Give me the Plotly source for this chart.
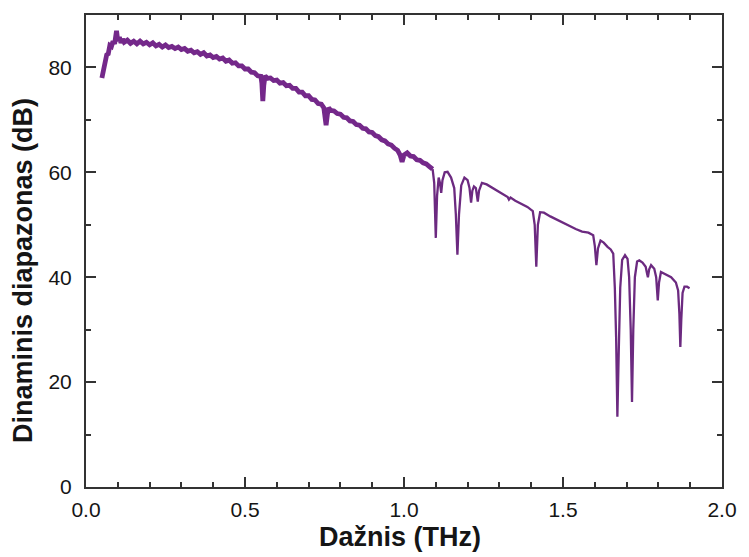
import plotly.graph_objects as go

# Frequency (THz) and dynamic range (dB)
freq_thz = [
    0.050, 0.055, 0.060, 0.065, 0.070, 0.075, 0.080, 0.085, 0.090, 0.096,
    0.100, 0.105, 0.110, 0.115, 0.12, 0.13, 0.14, 0.15, 0.16, 0.17,
    0.18, 0.19, 0.20, 0.21, 0.22, 0.23, 0.24, 0.25, 0.26, 0.27,
    0.28, 0.29, 0.30, 0.31, 0.32, 0.33, 0.34, 0.35, 0.36, 0.37,
    0.38, 0.39, 0.40, 0.41, 0.42, 0.43, 0.44, 0.45, 0.46, 0.47,
    0.48, 0.49, 0.50, 0.51, 0.52, 0.53, 0.54, 0.55, 0.553, 0.556,
    0.559, 0.563, 0.57, 0.58, 0.59, 0.60, 0.61, 0.62, 0.63, 0.64,
    0.65, 0.66, 0.67, 0.68, 0.69, 0.70, 0.71, 0.72, 0.73, 0.74,
    0.748, 0.752, 0.755, 0.759, 0.763, 0.77, 0.78, 0.79, 0.80, 0.81,
    0.82, 0.83, 0.84, 0.85, 0.86, 0.87, 0.88, 0.89, 0.90, 0.91,
    0.92, 0.93, 0.94, 0.95, 0.96, 0.97, 0.98, 0.988, 0.994, 1.000,
    1.01, 1.02, 1.03, 1.04, 1.05, 1.06, 1.07, 1.08, 1.09, 1.095,
    1.100, 1.104, 1.109, 1.113, 1.117, 1.121, 1.128, 1.137, 1.148, 1.158,
    1.163, 1.168, 1.173, 1.180, 1.190, 1.200, 1.206, 1.211, 1.215, 1.220,
    1.226, 1.229, 1.232, 1.236, 1.245, 1.26, 1.28, 1.30, 1.32, 1.326,
    1.330, 1.335, 1.35, 1.37, 1.388, 1.405, 1.411, 1.416, 1.421, 1.428,
    1.44, 1.46, 1.48, 1.50, 1.52, 1.54, 1.56, 1.58, 1.595, 1.600,
    1.605, 1.610, 1.618, 1.628, 1.640, 1.650, 1.658, 1.663, 1.667, 1.671,
    1.675, 1.680, 1.686, 1.695, 1.703, 1.708, 1.713, 1.717, 1.721, 1.726,
    1.733, 1.740, 1.750, 1.760, 1.764, 1.767, 1.771, 1.777, 1.787, 1.793,
    1.798, 1.802, 1.808, 1.82, 1.84, 1.855, 1.862, 1.866, 1.869, 1.872,
    1.876, 1.882, 1.890, 1.898,
]

dyn_range_db = [
    78.0, 79.6, 81.0, 82.4, 82.6, 84.2, 84.0, 85.0, 84.5, 87.0,
    85.0, 85.8, 84.7, 85.4, 84.8, 85.2, 84.6, 85.0, 84.5, 85.0,
    84.5, 84.8, 84.3, 84.7, 84.1, 84.4, 83.9, 84.3, 83.8, 84.0,
    83.6, 83.9, 83.4, 83.6, 83.1, 83.3, 82.8, 83.0, 82.5, 82.8,
    82.2, 82.4, 81.9, 82.1, 81.6, 81.8, 81.2, 81.4, 80.8, 80.9,
    80.3, 80.3, 79.7, 79.7, 79.1, 79.0, 78.4, 78.3, 77.0, 73.6,
    76.5, 78.4, 77.9, 78.0, 77.5, 77.6, 77.0, 77.1, 76.5, 76.6,
    76.0, 76.0, 75.3, 75.3, 74.6, 74.6, 73.9, 73.8, 73.1, 73.0,
    72.3, 70.5, 69.0, 71.0, 72.3, 71.8, 71.7, 71.2, 71.1, 70.5,
    70.4, 69.8, 69.7, 69.1, 69.0, 68.4, 68.3, 67.7, 67.6, 67.0,
    66.8, 66.2, 66.0, 65.4, 65.2, 64.6, 64.2, 63.3, 62.0, 63.3,
    63.7, 63.1, 63.0, 62.4, 62.3, 61.8, 61.6, 61.1, 60.6, 58.0,
    47.5, 55.5, 59.0, 58.0, 56.1, 58.5, 60.0, 60.1, 59.0, 57.0,
    52.0, 44.3, 52.0, 57.5, 59.0, 58.5, 57.0, 54.2, 56.5, 57.3,
    57.0, 55.5, 54.4, 56.5, 58.0, 57.7, 57.0, 56.2, 55.5, 55.3,
    54.8, 55.2, 54.6, 54.0, 53.4, 52.6, 50.0, 42.0, 50.0, 52.4,
    52.3, 51.6, 51.0, 50.3, 49.7, 49.2, 48.7, 48.5, 48.0, 46.0,
    42.3, 45.5, 47.0, 46.6, 45.8, 45.3, 44.5, 38.0, 28.6, 13.4,
    25.0, 38.0, 43.3, 44.2, 43.5, 40.0, 30.0, 16.2, 30.0, 40.0,
    43.0, 43.2, 42.8, 42.0, 40.8, 40.0, 41.5, 42.3, 41.6, 40.0,
    35.6, 39.0, 41.0, 40.6, 40.0, 39.0, 37.5, 33.0, 26.7, 32.0,
    37.0, 38.2, 38.2, 37.9,
]

# the low-frequency part of the trace is noisy (drawn as a thicker band)
noisy_until_thz = 1.09

x_title = "Dažnis (THz)"
y_title = "Dinaminis diapazonas (dB)"

split = max(i for i, f in enumerate(freq_thz) if f <= noisy_until_thz)

fig = go.Figure()
fig.add_trace(go.Scatter(
    x=freq_thz[:split + 1], y=dyn_range_db[:split + 1], mode="lines",
    line=dict(color="#74288a", width=4.8),
    showlegend=False, hoverinfo="skip",
))
fig.add_trace(go.Scatter(
    x=freq_thz[split:], y=dyn_range_db[split:], mode="lines",
    line=dict(color="#6c2a80", width=2.3),
    showlegend=False, hoverinfo="skip",
))

axis_common = dict(
    showline=True, linewidth=2, linecolor="#333333", mirror="allticks",
    ticks="inside", ticklen=10, tickwidth=2, tickcolor="#333333",
    showgrid=False, zeroline=False,
    tickfont=dict(family="Arial, Liberation Sans, sans-serif", size=21, color="#151515"),
)

fig.update_xaxes(
    range=[0, 2], dtick=0.5, tick0=0, tickformat=".1f",
    minor=dict(dtick=0.1, ticks="inside", ticklen=5, tickwidth=2, tickcolor="#333333", showgrid=False),
    ticklabelstandoff=3,
    **axis_common,
)
fig.update_yaxes(
    range=[0, 90], dtick=20, tick0=0,
    minor=dict(dtick=10, ticks="inside", ticklen=5, tickwidth=2, tickcolor="#333333", showgrid=False),
    ticklabelstandoff=8,
    **axis_common,
)

fig.add_annotation(
    text=f"<b>{x_title}</b>", xref="paper", yref="paper", x=0.5, y=0,
    xanchor="center", yanchor="middle", yshift=-50, xshift=-4, showarrow=False,
    font=dict(family="Arial, Liberation Sans, sans-serif", size=27, color="#151515"),
)
fig.add_annotation(
    text=f"<b>{y_title}</b>", xref="paper", yref="paper", x=0, y=0.5,
    xanchor="center", yanchor="middle", xshift=-63, yshift=-20, textangle=-90, showarrow=False,
    font=dict(family="Arial, Liberation Sans, sans-serif", size=27, color="#151515"),
)

fig.update_layout(
    width=749, height=557,
    margin=dict(l=86, r=19, t=15, b=70),
    paper_bgcolor="white", plot_bgcolor="white",
)

fig.write_html("out.html")
